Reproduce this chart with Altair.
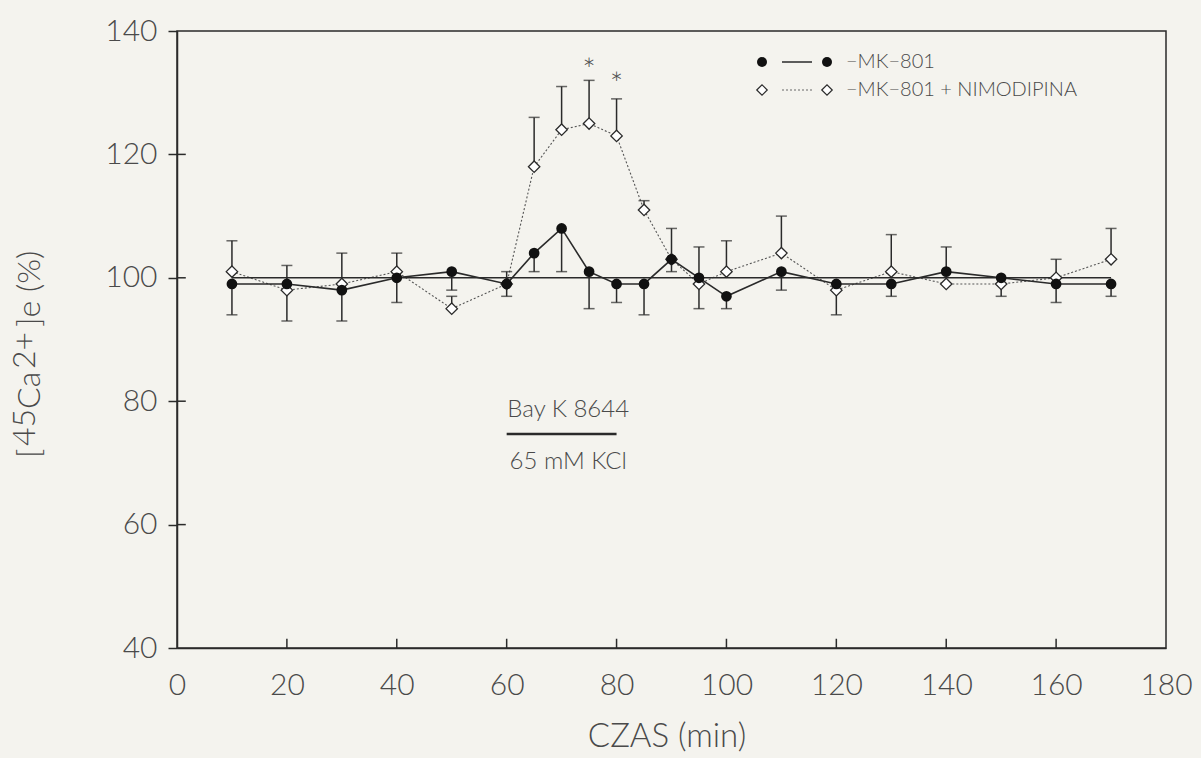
import altair as alt
import pandas as pd

# Time points (min) and mean extracellular 45Ca2+ (% of baseline)
time_min = [10, 20, 30, 40, 50, 60, 65, 70, 75, 80, 85, 90, 95, 100, 110, 120, 130, 140, 150, 160, 170]
mk801 = [99, 99, 98, 100, 101, 99, 104, 108, 101, 99, 99, 103, 100, 97, 101, 99, 99, 101, 100, 99, 99]
mk801_bar_end = [94, 93, 93, 96, 98, 97, 101, 101, 95, 96, 94, 108, 105, 95, 98, None, 97, 105, None, 96, 97]
nimo = [101, 98, 99, 101, 95, 99, 118, 124, 125, 123, 111, 103, 99, 101, 104, 98, 101, 99, 99, 100, 103]
nimo_bar_end = [106, 102, 104, 104, 97, 101, 126, 131, 132, 129, 112.5, 101, 95, 106, 110, 94, 107, None, 97, 103, 108]

# Significance marks
star_t = [75, 80]
star_v = [135.2, 132.8]

# Stimulus period bar
stim_t = [60, 80]
stim_v = 74.7

x_ticks = [0, 20, 40, 60, 80, 100, 120, 140, 160, 180]
y_ticks = [40, 60, 80, 100, 120, 140]

INK = "#2a2a2a"
TXT = "#4a4a4a"
BG = "#f4f3ee"
FONT = "Lato"

mk = pd.DataFrame({"t": time_min, "v": mk801, "e": mk801_bar_end})
nm = pd.DataFrame({"t": time_min, "v": nimo, "e": nimo_bar_end})
err = pd.concat([mk, nm]).dropna()

xs = alt.Scale(domain=[0, 180], nice=False, zero=False)
ys = alt.Scale(domain=[40, 140], nice=False, zero=False)

x_axis = alt.Axis(values=x_ticks, title=None, grid=False, ticks=False, domain=True,
                  domainColor=INK, domainWidth=1.5, labelFontSize=30, labelFont=FONT,
                  labelFontWeight=300, labelColor=TXT, labelPadding=22, labelFlush=False)
y_axis = alt.Axis(values=y_ticks, title=None, grid=False, ticks=True, tickSize=9,
                  tickColor=INK, tickWidth=1.5, domain=True, domainColor=INK, domainWidth=1.5,
                  labelFontSize=30, labelFont=FONT, labelFontWeight=300, labelColor=TXT,
                  labelPadding=11)

X = alt.X("t:Q", scale=xs, axis=x_axis)
Y = alt.Y("v:Q", scale=ys, axis=y_axis)

nimo_line = alt.Chart(nm).mark_line(color="#555555", strokeWidth=1.1, strokeDash=[2, 2]).encode(x=X, y=Y)
mk_line = alt.Chart(mk).mark_line(color=INK, strokeWidth=1.6).encode(x=X, y=Y)

err_rule = alt.Chart(err).mark_rule(color=INK, strokeWidth=1.5).encode(
    x=X, y=Y, y2=alt.Y2("e:Q"))
err_cap = alt.Chart(err).mark_tick(color=INK, orient="horizontal", size=11, thickness=1.5).encode(
    x=X, y=alt.Y("e:Q", scale=ys, axis=y_axis))

base_df = pd.DataFrame({"t": [10], "t2": [170], "v": [100]})
baseline = alt.Chart(base_df).mark_rule(color=INK, strokeWidth=1.5).encode(
    x=X, x2="t2:Q", y=Y)

# Inward tick marks on the bottom and left axes
xt = pd.DataFrame({"t": x_ticks[1:-1], "v": [40] * (len(x_ticks) - 2), "v2": [41.5] * (len(x_ticks) - 2)})
x_in = alt.Chart(xt).mark_rule(color=INK, strokeWidth=1.5).encode(x=X, y=Y, y2="v2:Q")
yt = pd.DataFrame({"t": [0] * (len(y_ticks) - 2), "t2": [1.6] * (len(y_ticks) - 2), "v": y_ticks[1:-1]})
y_in = alt.Chart(yt).mark_rule(color=INK, strokeWidth=1.5).encode(x=X, x2="t2:Q", y=Y)

nimo_pts = alt.Chart(nm).mark_point(shape="diamond", filled=True, fill="white", stroke=INK,
                                    strokeWidth=1.3, size=130, opacity=1).encode(x=X, y=Y)
mk_pts = alt.Chart(mk).mark_point(shape="circle", filled=True, color="#111111", size=115,
                                  opacity=1).encode(x=X, y=Y)

stars = alt.Chart(pd.DataFrame({"t": star_t, "v": star_v})).mark_text(
    text="*", fontSize=32, font=FONT, fontWeight=300, color=TXT, baseline="middle", dy=10).encode(x=X, y=Y)

stim_df = pd.DataFrame({"t": [stim_t[0]], "t2": [stim_t[1]], "v": [stim_v]})
stim_bar = alt.Chart(stim_df).mark_rule(color=INK, strokeWidth=2.5).encode(x=X, x2="t2:Q", y=Y)
stim_txt_df = pd.DataFrame({"t": [71.2, 71.2], "v": [78.5, 70.1], "label": ["Bay K 8644", "65 mM KCl"]})
stim_txt = alt.Chart(stim_txt_df).mark_text(fontSize=24, font=FONT, fontWeight=300, color=TXT,
                                             baseline="middle", align="center").encode(
    x=X, y=Y, text="label:N")

# Legend drawn as marks in the upper right corner
leg = []
for row_y, solid, label in [(31, True, "\u2212MK\u2212801"), (59, False, "\u2212MK\u2212801 + NIMODIPINA")]:
    d = pd.DataFrame({"a": [0]})
    line_kw = dict(color=INK, strokeWidth=1.5) if solid else dict(color="#666666", strokeWidth=1, strokeDash=[2, 2])
    leg.append(alt.Chart(d).mark_rule(**line_kw).encode(
        x=alt.value(605), x2=alt.value(635), y=alt.value(row_y)))
    for px in (585, 650):
        if solid:
            m = alt.Chart(d).mark_point(shape="circle", filled=True, color="#111111", size=100, opacity=1)
        else:
            m = alt.Chart(d).mark_point(shape="diamond", filled=True, fill="white", stroke=INK,
                                        strokeWidth=1.2, size=110, opacity=1)
        leg.append(m.encode(x=alt.value(px), y=alt.value(row_y)))
    leg.append(alt.Chart(d).mark_text(text=label, fontSize=20, font=FONT, fontWeight=300, color=TXT,
                                      align="left", baseline="middle").encode(
        x=alt.value(669), y=alt.value(row_y)))

# Axis titles
d0 = pd.DataFrame({"a": [0]})
x_title = alt.Chart(d0).mark_text(text="CZAS (min)", fontSize=33, font=FONT, fontWeight=300, color=TXT,
                                  align="center", baseline="alphabetic").encode(
    x=alt.value(490), y=alt.value(716))
# Rotated y title built from pieces so that 45 and 2+ sit raised like superscripts
y_parts = [("[", 427, -137), ("45", 415, -142), ("Ca", 378, -137), ("2+", 338, -142), ("]e (%)", 296, -137)]
y_title = [alt.Chart(d0).mark_text(text=s, fontSize=32, font=FONT, fontWeight=300, color=TXT, angle=270,
                                   align="left", baseline="alphabetic").encode(x=alt.value(px), y=alt.value(py))
           for s, py, px in y_parts]

chart = alt.layer(
    nimo_line, mk_line, baseline, err_rule, err_cap, x_in, y_in, nimo_pts, mk_pts,
    stars, stim_bar, stim_txt, x_title, *y_title, *leg
).properties(
    width=989, height=617,
    autosize=alt.AutoSizeParams(type="none"),
    padding={"left": 177, "top": 31, "right": 35, "bottom": 110},
    background=BG,
).configure_view(stroke=INK, strokeWidth=1.5, fill=BG)

chart.save("out.html", embed_options={"renderer": "svg", "actions": False})
